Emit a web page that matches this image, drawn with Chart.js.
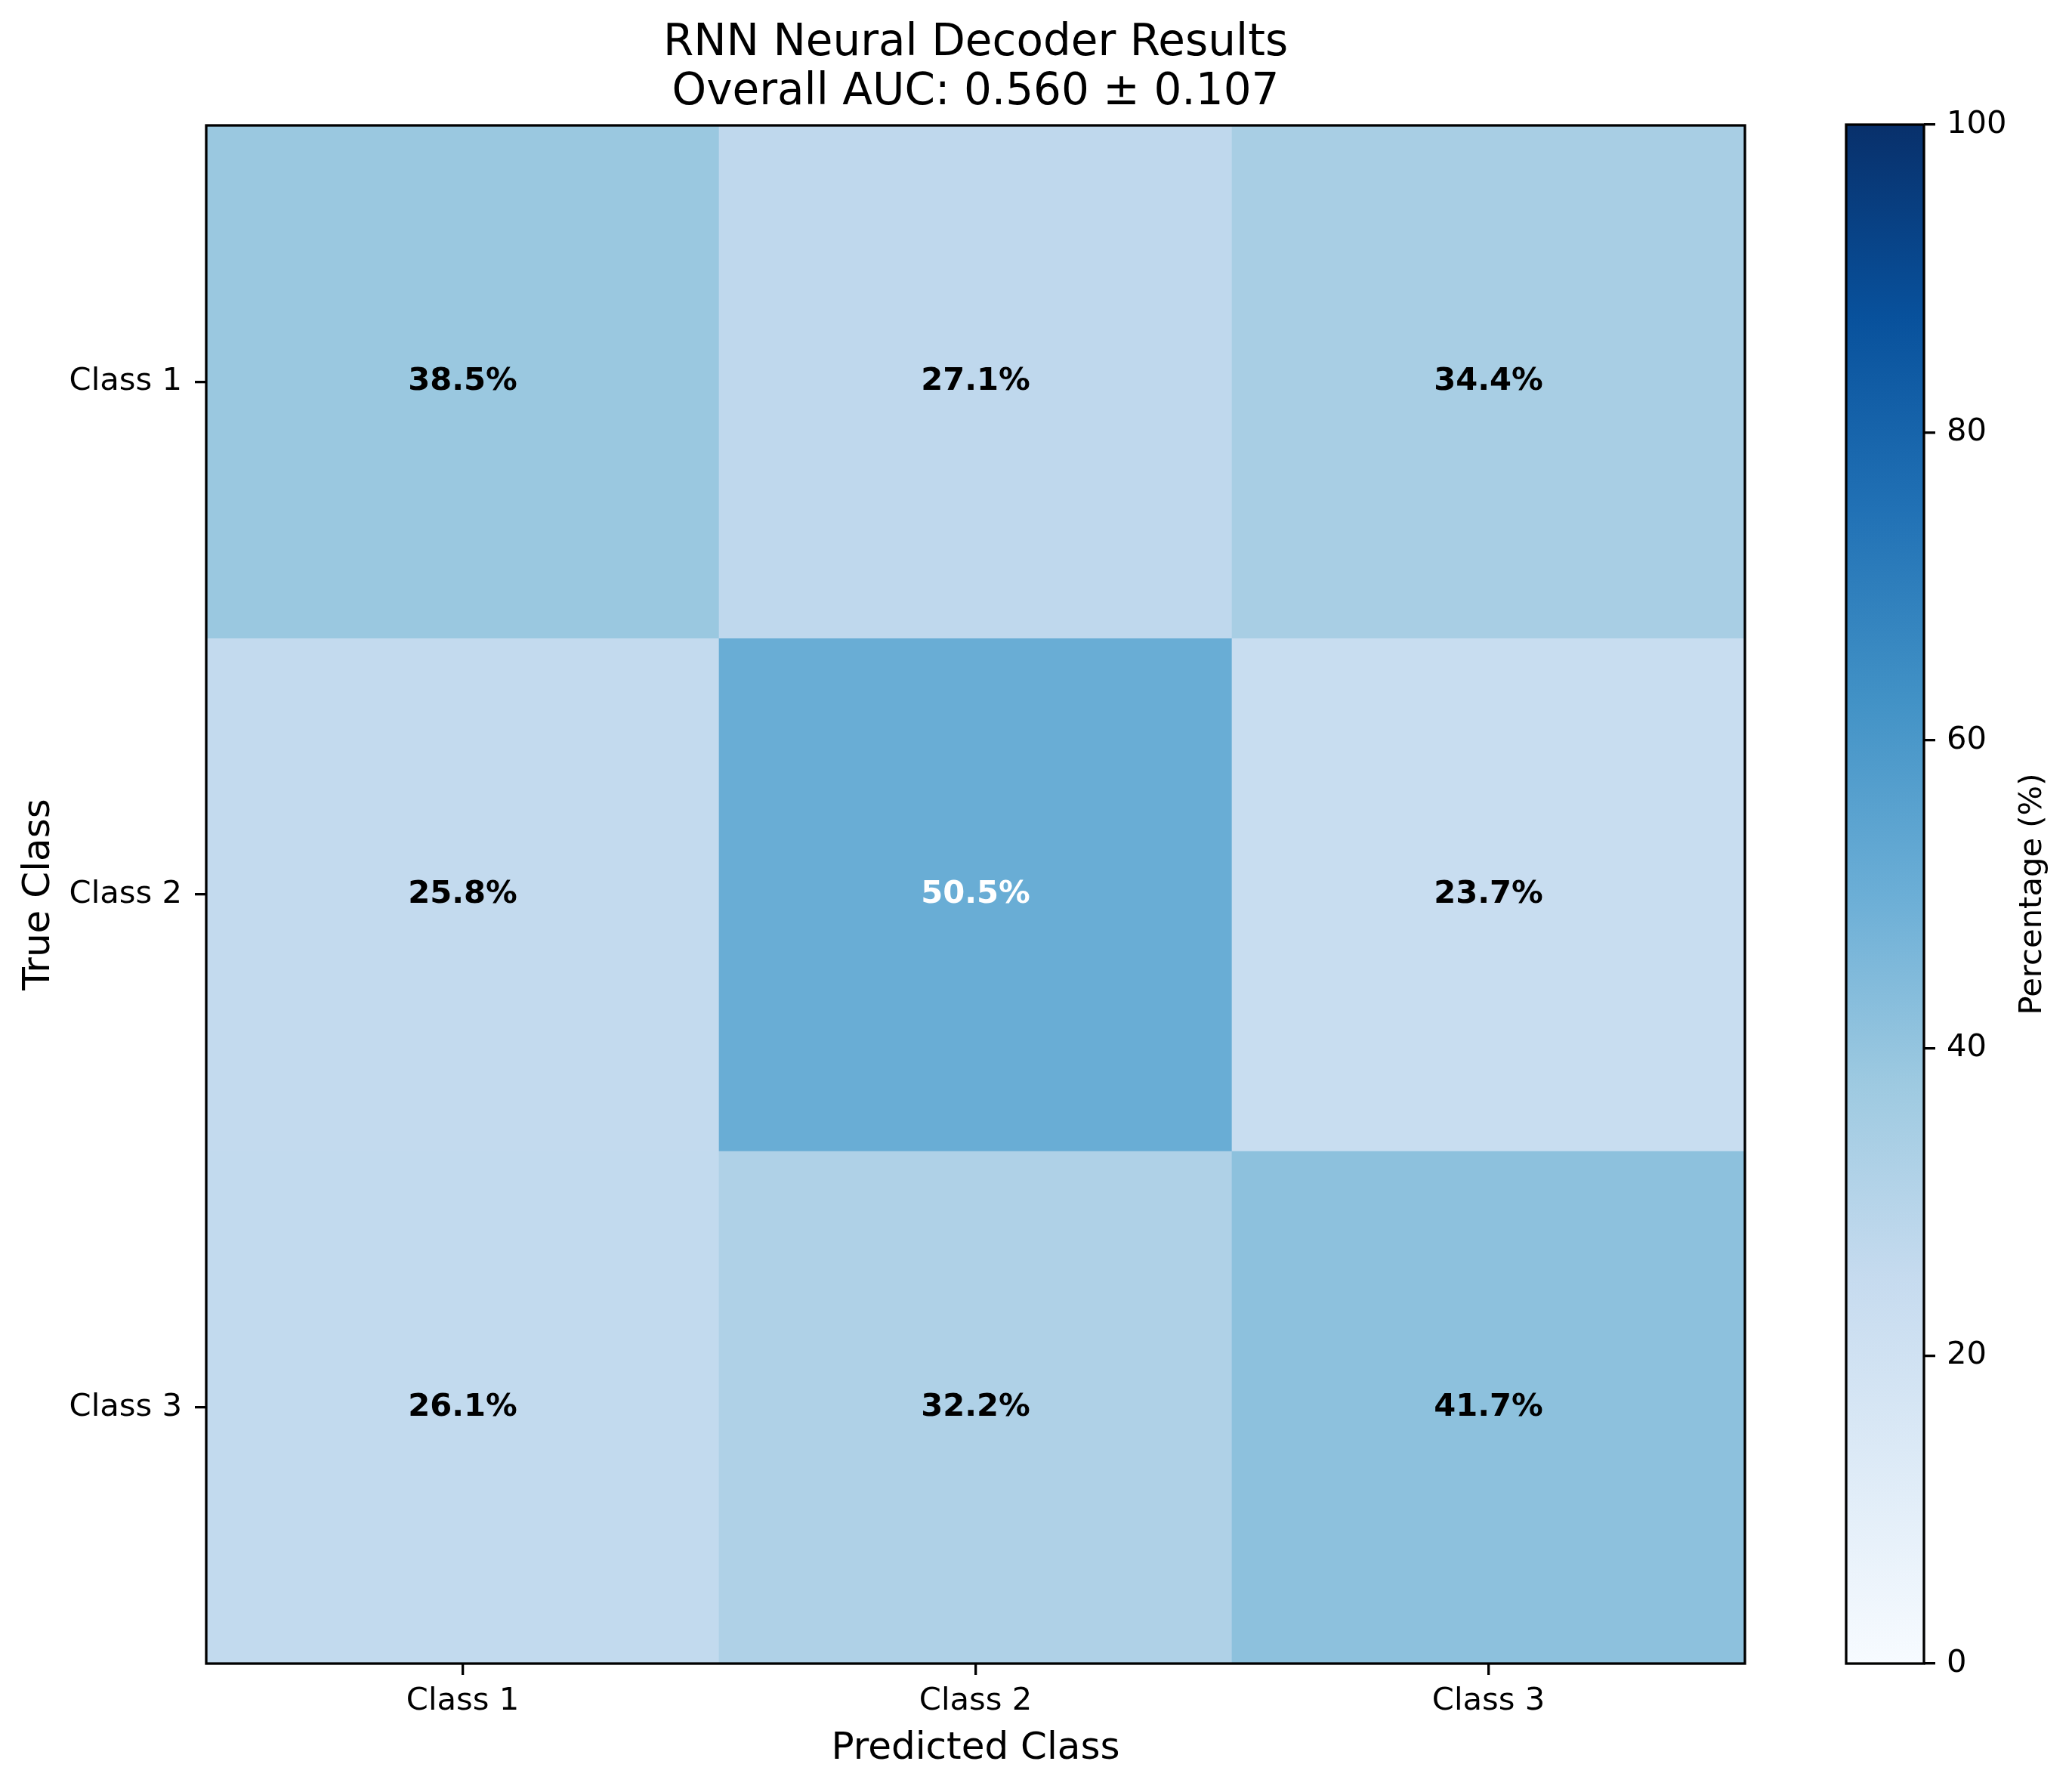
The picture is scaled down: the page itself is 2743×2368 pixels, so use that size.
<!DOCTYPE html>
<html>
<head>
<meta charset="utf-8">
<title>RNN Neural Decoder Results</title>
<script src="https://cdn.jsdelivr.net/npm/chart.js@4.4.1/dist/chart.umd.min.js"></script>
<style>
  html, body { margin: 0; padding: 0; background: #fff; }
  #wrap { position: relative; width: 2743px; height: 2368px; }
  #main { position: absolute; left: 0; top: 0; }
  #cbar { position: absolute; left: 2380px; top: 0; }
</style>
</head>
<body>
<div id="wrap">
  <canvas id="main" width="2743" height="2368"></canvas>
  <canvas id="cbar" width="363" height="2368"></canvas>
</div>
<script>
// ---- data ----
var predLabels = ['Class 1', 'Class 2', 'Class 3'];
var trueLabels = ['Class 1', 'Class 2', 'Class 3'];
var rowClass1 = [38.5, 27.1, 34.4];
var rowClass2 = [25.8, 50.5, 23.7];
var rowClass3 = [26.1, 32.2, 41.7];
var matrix = [rowClass1, rowClass2, rowClass3];
var aucMean = 0.560;
var aucStd = 0.107;
var cbarMin = 0;
var cbarMax = 100;
var cbarStep = 20;

// matplotlib "Blues" stops
var blues = ['#f7fbff', '#deebf7', '#c6dbef', '#9ecae1', '#6baed6',
             '#4292c6', '#2171b5', '#08519c', '#08306b'];

function hexRgb(h) {
  return [parseInt(h.substr(1, 2), 16), parseInt(h.substr(3, 2), 16), parseInt(h.substr(5, 2), 16)];
}
function bluesColor(v) {
  var t = Math.max(0, Math.min(1, (v - cbarMin) / (cbarMax - cbarMin)));
  var pos = t * (blues.length - 1);
  var i = Math.min(Math.floor(pos), blues.length - 2);
  var f = pos - i;
  var a = hexRgb(blues[i]), b = hexRgb(blues[i + 1]);
  return 'rgb(' + Math.round(a[0] + (b[0] - a[0]) * f) + ',' +
    Math.round(a[1] + (b[1] - a[1]) * f) + ',' +
    Math.round(a[2] + (b[2] - a[2]) * f) + ')';
}

Chart.defaults.font.family = "'DejaVu Sans', sans-serif";
Chart.defaults.color = '#000';

var tickFont = { size: 41.7 };
var axisGrid = {
  display: true,
  drawOnChartArea: false,
  drawTicks: true,
  tickLength: 15,
  lineWidth: 3.3,
  color: '#000',
  offset: false
};

// box around the plotting area (matplotlib spines)
var frame = {
  id: 'frame',
  afterDraw: function (chart) {
    var a = chart.chartArea, c = chart.ctx;
    c.save();
    c.strokeStyle = '#000';
    c.lineWidth = 3.3;
    c.strokeRect(a.left, a.top, a.right - a.left, a.bottom - a.top);
    c.restore();
  }
};

// percentage written in each cell
var cellLabels = {
  id: 'cellLabels',
  afterDatasetsDraw: function (chart) {
    var c = chart.ctx;
    c.save();
    c.font = "bold 41.7px 'DejaVu Sans'";
    c.textAlign = 'center';
    c.textBaseline = 'middle';
    chart.data.datasets.forEach(function (ds, i) {
      chart.getDatasetMeta(i).data.forEach(function (bar, j) {
        var v = matrix[i][j];
        c.fillStyle = v > 50 ? '#fff' : '#000';
        c.fillText(v.toFixed(1) + '%', bar.x, (bar.y + bar.base) / 2);
      });
    });
    c.restore();
  }
};

var datasets = trueLabels.map(function (name, i) {
  return {
    label: name,
    data: predLabels.map(function () { return [i - 0.5, i + 0.5]; }),
    backgroundColor: matrix[i].map(bluesColor),
    borderWidth: 0,
    grouped: false,
    barPercentage: 1,
    categoryPercentage: 1
  };
});

new Chart(document.getElementById('main'), {
  type: 'bar',
  data: { labels: predLabels, datasets: datasets },
  options: {
    responsive: false,
    devicePixelRatio: 1,
    animation: false,
    layout: { padding: { left: 0, top: 0, right: 433, bottom: 0 } },
    plugins: {
      legend: { display: false },
      tooltip: { enabled: false },
      title: {
        display: true,
        fullSize: false,
        text: ['RNN Neural Decoder Results', 'Overall AUC: ' + aucMean.toFixed(3) + ' \u00b1 ' + aucStd.toFixed(3)],
        font: { size: 58, weight: 'normal', lineHeight: 1.1207 },
        color: '#000',
        padding: { top: 25.5, bottom: 10.5 }
      }
    },
    scales: {
      x: {
        type: 'category',
        grid: axisGrid,
        border: { display: false },
        ticks: { font: tickFont, color: '#000', padding: 10, maxRotation: 0 },
        title: {
          display: true,
          text: 'Predicted Class',
          font: { size: 50 },
          color: '#000',
          padding: { top: 0, bottom: 23 }
        },
        afterFit: function (s) { s.height = 166; }
      },
      y: {
        type: 'linear',
        min: -0.5,
        max: trueLabels.length - 0.5,
        reverse: true,
        grid: axisGrid,
        border: { display: false },
        afterBuildTicks: function (s) {
          s.ticks = trueLabels.map(function (_, i) { return { value: i }; });
        },
        ticks: {
          font: tickFont,
          color: '#000',
          padding: 17,
          callback: function (v) { return trueLabels[v]; }
        },
        title: {
          display: true,
          text: 'True Class',
          font: { size: 50 },
          color: '#000',
          padding: { top: 22, bottom: 0 }
        },
        afterFit: function (s) { s.width = 273; }
      }
    }
  },
  plugins: [cellLabels, frame]
});

// ---- colorbar ----
var cbarLabel = {
  id: 'cbarLabel',
  afterDraw: function (chart) {
    var a = chart.chartArea, c = chart.ctx;
    c.save();
    c.translate(chart.width - 52, (a.top + a.bottom) / 2);
    c.rotate(-Math.PI / 2);
    c.font = "41.7px 'DejaVu Sans'";
    c.fillStyle = '#000';
    c.textAlign = 'center';
    c.textBaseline = 'middle';
    c.fillText('Percentage (%)', 0, 0);
    c.restore();
  }
};

new Chart(document.getElementById('cbar'), {
  type: 'bar',
  data: {
    labels: [''],
    datasets: [{
      data: [[cbarMin, cbarMax]],
      backgroundColor: function (ctx) {
        var chart = ctx.chart;
        if (!chart.chartArea) return blues[4];
        var y = chart.scales.y;
        var g = chart.ctx.createLinearGradient(0, y.getPixelForValue(cbarMin), 0, y.getPixelForValue(cbarMax));
        blues.forEach(function (col, k) { g.addColorStop(k / (blues.length - 1), col); });
        return g;
      },
      borderWidth: 0,
      barPercentage: 1,
      categoryPercentage: 1
    }]
  },
  options: {
    responsive: false,
    devicePixelRatio: 1,
    animation: false,
    layout: { padding: { left: 64, top: 165, right: 0, bottom: 166 } },
    plugins: { legend: { display: false }, tooltip: { enabled: false } },
    scales: {
      x: { display: false },
      y: {
        position: 'right',
        min: cbarMin,
        max: cbarMax,
        grid: axisGrid,
        border: { display: false },
        ticks: { stepSize: cbarStep, font: tickFont, color: '#000', padding: 15 },
        afterFit: function (s) { s.width = 196; }
      }
    }
  },
  plugins: [frame, cbarLabel]
});
</script>
</body>
</html>
